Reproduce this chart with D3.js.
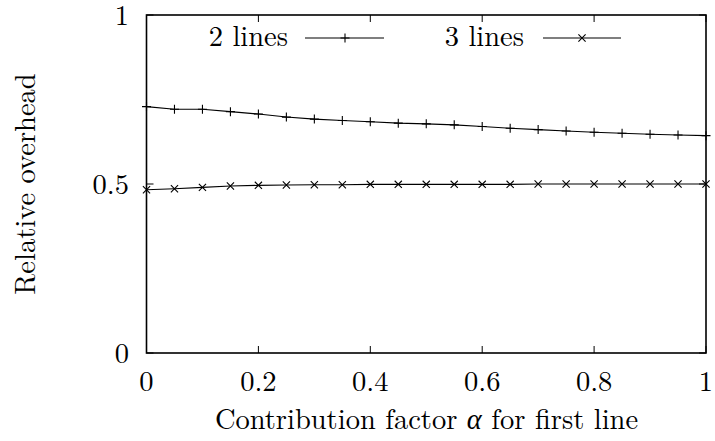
<!DOCTYPE html>
<html><head><meta charset="utf-8">
<script src="https://cdn.jsdelivr.net/npm/d3@7"></script>
</head>
<body style="margin:0;background:#fff"><svg id="c" width="715" height="441"></svg>
<script>
const alphas = [0,0.05,0.1,0.15,0.2,0.25,0.3,0.35,0.4,0.45,0.5,0.55,0.6,0.65,0.7,0.75,0.8,0.85,0.9,0.95,1];
const twoLines = [0.729,0.721,0.721,0.714,0.707,0.698,0.692,0.688,0.684,0.680,0.678,0.675,0.670,0.665,0.661,0.657,0.653,0.650,0.647,0.645,0.643];
const threeLines = [0.483,0.486,0.490,0.494,0.496,0.497,0.498,0.498,0.499,0.499,0.499,0.499,0.499,0.499,0.500,0.500,0.500,0.500,0.500,0.500,0.500];
const xTicks = [0,0.2,0.4,0.6,0.8,1];
const yTicks = [0,0.5,1];
const seriesNames = ["2 lines","3 lines"];

const svg = d3.select("#c");
const L=146.5,R=706,T=15,B=353;
const x = d3.scaleLinear().domain([0,1]).range([L,R]);
const y = d3.scaleLinear().domain([0,1]).range([B,T]);
const fs = 28.5;
const FF = '"Latin Modern Roman","CMU Serif","Liberation Serif",serif';
function txt(sel){ return sel.append("text").style("font-family",FF).style("font-size",fs+"px").attr("fill","#000"); }

const tl = 7;
const g = svg.append("g").attr("stroke","#000").attr("stroke-width",1);
xTicks.forEach(v=>{
  g.append("line").attr("x1",x(v)).attr("x2",x(v)).attr("y1",B).attr("y2",B-tl);
  g.append("line").attr("x1",x(v)).attr("x2",x(v)).attr("y1",T).attr("y2",T+tl);
});
yTicks.forEach(v=>{
  g.append("line").attr("x1",L).attr("x2",L+tl).attr("y1",y(v)).attr("y2",y(v));
  g.append("line").attr("x1",R).attr("x2",R-tl).attr("y1",y(v)).attr("y2",y(v));
});

const fmt = v => String(v);
xTicks.forEach(v=>{
  txt(svg).attr("x",x(v)).attr("y",391).attr("text-anchor","middle").text(fmt(v));
});
yTicks.forEach(v=>{
  txt(svg).attr("x",129).attr("y",y(v)+9.5).attr("text-anchor","end").text(fmt(v));
});

const xt = txt(svg).attr("x",426.5).attr("y",429).attr("text-anchor","middle");
xt.append("tspan").text("Contribution factor ");
xt.append("tspan").attr("font-style","italic").text("α");
xt.append("tspan").text(" for first line");
txt(svg).attr("transform",`translate(35,${(T+B)/2}) rotate(-90)`).attr("text-anchor","middle")
  .text("Relative overhead");

const line = d3.line().x((d,i)=>x(alphas[i])).y(d=>y(d));
[twoLines,threeLines].forEach(s=>{
  svg.append("path").attr("d",line(s)).attr("fill","none").attr("stroke","#000").attr("stroke-width",1.1);
});

function plus(gg,cx,cy){
  const s=4.5;
  gg.append("path").attr("d",`M${cx-s},${cy}H${cx+s}M${cx},${cy-s}V${cy+s}`).attr("stroke","#000").attr("stroke-width",1.1);
}
function cross(gg,cx,cy){
  const s=3.6;
  gg.append("path").attr("d",`M${cx-s},${cy-s}L${cx+s},${cy+s}M${cx-s},${cy+s}L${cx+s},${cy-s}`).attr("stroke","#000").attr("stroke-width",1.1);
}
const mg = svg.append("g");
twoLines.forEach((v,i)=>plus(mg,x(alphas[i]),y(v)));
threeLines.forEach((v,i)=>cross(mg,x(alphas[i]),y(v)));

svg.append("rect").attr("x",L).attr("y",T).attr("width",R-L).attr("height",B-T)
  .attr("fill","none").attr("stroke","#000").attr("stroke-width",1.6);

const ly = 38;
txt(svg).attr("x",288).attr("y",46).attr("text-anchor","end").text(seriesNames[0]);
svg.append("line").attr("x1",305).attr("x2",384).attr("y1",ly).attr("y2",ly).attr("stroke","#000").attr("stroke-width",1.1);
plus(svg,345,ly);
txt(svg).attr("x",524).attr("y",46).attr("text-anchor","end").text(seriesNames[1]);
svg.append("line").attr("x1",543).attr("x2",621).attr("y1",ly).attr("y2",ly).attr("stroke","#000").attr("stroke-width",1.1);
cross(svg,582,ly);
</script></body></html>
